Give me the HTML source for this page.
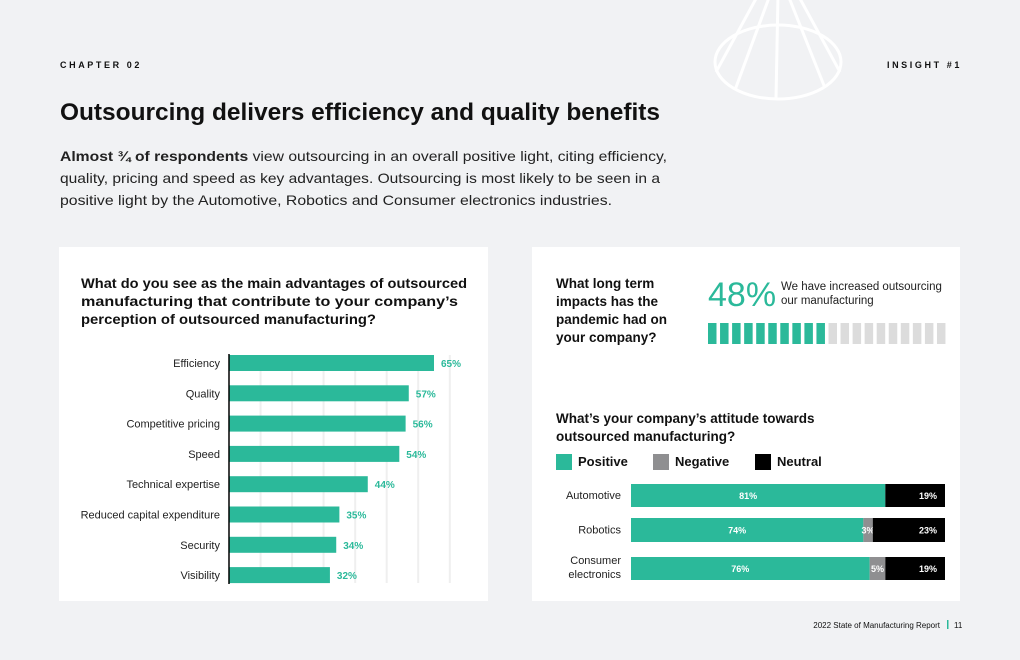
<!DOCTYPE html>
<html><head><meta charset="utf-8"><style>
html,body{margin:0;padding:0;background:#f1f2f4;}
svg{display:block;font-family:"Liberation Sans",sans-serif;}
</style></head><body>
<svg id="pg" width="1020" height="660" viewBox="0 0 1020 660">
<rect width="1020" height="660" fill="#f1f2f4"/>
<g stroke="#fff" stroke-width="3" fill="none">
<ellipse cx="778" cy="62" rx="63" ry="37"/>
<line x1="758" y1="-5" x2="716" y2="72"/>
<line x1="770" y1="-5" x2="735" y2="90"/>
<line x1="778" y1="-5" x2="776" y2="99"/>
<line x1="788" y1="-5" x2="825" y2="88"/>
<line x1="798" y1="-5" x2="840" y2="72"/>
</g>
<text x="60" y="68" font-size="9" font-weight="bold" letter-spacing="2.6" fill="#111">CHAPTER 02</text>
<text x="962" y="68" font-size="9" font-weight="bold" letter-spacing="2.6" fill="#111" text-anchor="end">INSIGHT #1</text>
<text x="60" y="120" font-size="24" font-weight="bold" fill="#111" textLength="600" lengthAdjust="spacingAndGlyphs">Outsourcing delivers efficiency and quality benefits</text>
<g font-size="14" fill="#222">
<text x="60" y="161" textLength="607" lengthAdjust="spacingAndGlyphs"><tspan font-weight="bold">Almost ¾ of respondents</tspan> view outsourcing in an overall positive light, citing efficiency,</text>
<text x="60" y="183" textLength="600" lengthAdjust="spacingAndGlyphs">quality, pricing and speed as key advantages. Outsourcing is most likely to be seen in a</text>
<text x="60" y="205" textLength="552" lengthAdjust="spacingAndGlyphs">positive light by the Automotive, Robotics and Consumer electronics industries.</text>
</g>
<rect x="59" y="247" width="429" height="354" fill="#fff"/>
<rect x="532" y="247" width="428" height="354" fill="#fff"/>
<g font-size="13.5" font-weight="bold" fill="#111">
<text x="81" y="288" textLength="386" lengthAdjust="spacingAndGlyphs">What do you see as the main advantages of outsourced</text>
<text x="81" y="306" textLength="377" lengthAdjust="spacingAndGlyphs">manufacturing that contribute to your company’s</text>
<text x="81" y="324" textLength="295" lengthAdjust="spacingAndGlyphs">perception of outsourced manufacturing?</text>
</g>
<g id="advChart"></g>
<g font-size="13.5" font-weight="bold" fill="#111">
<text x="556" y="288">What long term</text>
<text x="556" y="306">impacts has the</text>
<text x="556" y="324">pandemic had on</text>
<text x="556" y="342">your company?</text>
</g>
<text id="bigPct" x="708" y="306" font-size="34" fill="#2bb99a">48%</text>
<text x="781" y="290" font-size="11.5" fill="#222">We have increased outsourcing</text>
<text x="781" y="304" font-size="11.5" fill="#222">our manufacturing</text>
<g id="waffle"></g>
<g font-size="13.5" font-weight="bold" fill="#111">
<text x="556" y="423">What’s your company’s attitude towards</text>
<text x="556" y="441">outsourced manufacturing?</text>
</g>
<g font-size="13" font-weight="bold" fill="#111">
<rect x="556" y="454" width="16" height="16" fill="#2bb99a"/>
<text x="578" y="466">Positive</text>
<rect x="653" y="454" width="16" height="16" fill="#8f8f91"/>
<text x="675" y="466">Negative</text>
<rect x="755" y="454" width="16" height="16" fill="#000"/>
<text x="777" y="466">Neutral</text>
</g>
<g id="stackChart"></g>
<g font-size="8" fill="#111">
<text x="940" y="628" text-anchor="end">2022 State of Manufacturing Report</text>
<rect x="947" y="620" width="1.5" height="9" fill="#2bb99a"/>
<text x="954" y="628">11</text>
</g>
</svg>
<script>
const advCategories = ["Efficiency","Quality","Competitive pricing","Speed","Technical expertise","Reduced capital expenditure","Security","Visibility"];
const advValues = [65,57,56,54,44,35,34,32];
const gridTicks = [10,20,30,40,50,60,70];
const pandemicValue = 48;
const stackCategories = [["Automotive"],["Robotics"],["Consumer","electronics"]];
const positiveValues = [81,74,76];
const negativeValues = [0,3,5];
const neutralValues = [19,23,19];

const NS="http://www.w3.org/2000/svg";
function mk(tag,attrs,parent,txt){const e=document.createElementNS(NS,tag);for(const k in attrs)e.setAttribute(k,attrs[k]);if(txt!==undefined)e.textContent=txt;parent.appendChild(e);return e;}
const GREEN="#2bb99a";

// advantages chart
const adv=document.getElementById('advChart');
const x0=229, pxPer=205/65;
const xA=v=>x0+v*pxPer;
const yA=i=>363+i*30.3;
gridTicks.forEach(t=>{
  const l=mk('line',{x1:xA(t),x2:xA(t),y1:355,y2:583,stroke:'#efefef','stroke-width':2},adv);
  
  
});
advValues.forEach((v,i)=>{
  const r=mk('rect',{x:x0,y:yA(i)-8,width:xA(v)-x0,height:16,fill:GREEN},adv);
  
  
  const lb=mk('text',{x:220,y:yA(i)+4,'font-size':11,fill:'#222','text-anchor':'end'},adv,advCategories[i]);
  
  
  const vl=mk('text',{x:xA(v)+7,y:yA(i)+4,'font-size':10,'font-weight':'bold',fill:GREEN},adv,v+'%');
  
  
});
const ax=mk('line',{x1:x0,x2:x0,y1:354,y2:584,stroke:'#000','stroke-width':1.5},adv);



// waffle
const wf=document.getElementById('waffle');
const nSeg=20, filled=Math.round(pandemicValue/100*nSeg);
for(let i=0;i<nSeg;i++){
  const s=mk('rect',{x:708+i*12.05,y:323,width:8.5,height:21,fill:i<filled?GREEN:'#dcdcdc'},wf);
  
  
}

// stacked
const st=document.getElementById('stackChart');
const sx0=631, sw=314;
const xS=v=>v/100*sw;
const rowY=[484,518,557], rowH=[23,24,23];
stackCategories.forEach((c,i)=>{
  const y=rowY[i], h=rowH[i], cy=y+h/2+3.5;
  const segs=[[positiveValues[i],GREEN,'positive'],[negativeValues[i],'#8f8f91','negative'],[neutralValues[i],'#000','neutral']];
  let cx=sx0;
  segs.forEach(([v,col,nm],j)=>{
    if(v<=0)return;
    const w=xS(v);
    const r=mk('rect',{x:cx,y:y,width:w,height:h,fill:col},st);
    
    
    let tx, anchor='middle';
    if(j===0) tx=cx+w/2-10;
    else if(j===1) tx=cx+w/2;
    else {tx=sx0+sw-8; anchor='end';}
    const t=mk('text',{x:tx,y:cy,'font-size':9,'font-weight':'bold',fill:'#fff','text-anchor':anchor},st,v+'%');
    
    
    cx+=w;
  });
  if(c.length===1){
    const l=mk('text',{x:621,y:cy,'font-size':11,fill:'#222','text-anchor':'end'},st,c[0]);
    
    
  } else {
    c.forEach((s,k)=>{
      const l=mk('text',{x:621,y:y+7+k*14,'font-size':11,fill:'#222','text-anchor':'end'},st,s);
      
      
    });
  }
});
</script>
</body></html>
